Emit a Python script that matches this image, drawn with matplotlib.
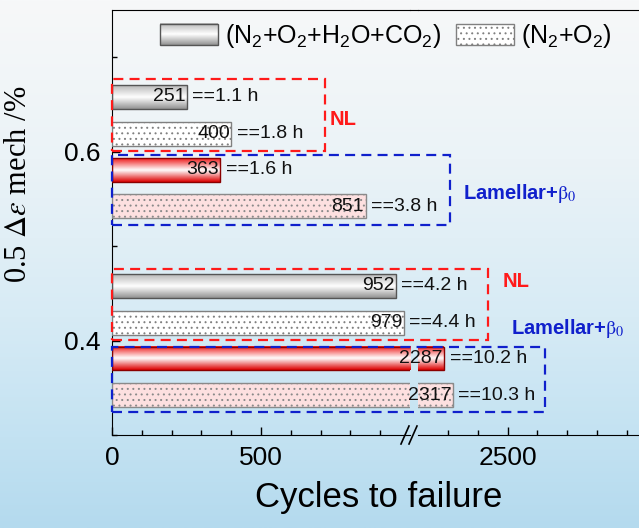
import numpy as np
import matplotlib
matplotlib.use("Agg")
import matplotlib.pyplot as plt
import matplotlib.ticker as mticker
from matplotlib.colors import LinearSegmentedColormap
from matplotlib.legend_handler import HandlerBase
from matplotlib.image import BboxImage
from matplotlib.transforms import Bbox, TransformedBbox, blended_transform_factory
from matplotlib.patches import Rectangle
from matplotlib.lines import Line2D

plt.rcParams['font.family'] = ['Liberation Sans', 'DejaVu Sans']
plt.rcParams['mathtext.fontset'] = 'custom'
plt.rcParams['mathtext.rm'] = 'Liberation Sans'
plt.rcParams['mathtext.it'] = 'Liberation Sans:italic'
plt.rcParams['mathtext.bf'] = 'Liberation Sans:bold'
plt.rcParams['hatch.linewidth'] = 0.7

# strain amplitude levels (0.5 * delta eps mech, %)
strain_amp = [0.6, 0.4]

# cycles to failure
nl_wet = [251, 952]        # NL, N2+O2+H2O+CO2
nl_dry = [400, 979]        # NL, N2+O2
lam_wet = [363, 2287]      # Lamellar+b0, N2+O2+H2O+CO2
lam_dry = [851, 2317]      # Lamellar+b0, N2+O2

# test time in hours
nl_wet_h = [1.1, 4.2]
nl_dry_h = [1.8, 4.4]
lam_wet_h = [1.6, 10.2]
lam_dry_h = [3.8, 10.3]

legend_labels = [r'(N$_2$+O$_2$+H$_2$O+CO$_2$)', r'(N$_2$+O$_2$)']

offsets = [0.058, 0.019, -0.019, -0.058]
bar_h = 0.0254

gray_cmap = LinearSegmentedColormap.from_list(
    'gray_bar', [(0, '#929292'), (0.5, '#ffffff'), (1, '#b8b8b8')])
red_cmap = LinearSegmentedColormap.from_list(
    'red_bar', [(0, '#dd0000'), (0.5, '#ffffff'), (1, '#ee1a1a')])
bg_cmap = LinearSegmentedColormap.from_list(
    'bg', [(0, '#f7f8f9'), (0.3, '#ebf3f7'), (0.6, '#d7ebf5'),
           (0.83, '#c3e2f2'), (1, '#b4daee')])

W, H = 639, 528
fig = plt.figure(figsize=(W / 100, H / 100), dpi=100)

bg = fig.add_axes([0, 0, 1, 1], zorder=-10)
bg.imshow(np.linspace(0, 1, 256).reshape(-1, 1), aspect='auto', cmap=bg_cmap,
          extent=(0, 1, 0, 1), origin='upper')
bg.axis('off')

ax_bottom, ax_top = 93 / H, 518 / H
ax1 = fig.add_axes([112 / W, ax_bottom, 298 / W, ax_top - ax_bottom])
ax2 = fig.add_axes([418 / W, ax_bottom, 221 / W, ax_top - ax_bottom])


def gradient_bars(ax, ypos, widths, cmap, edge):
    bars = ax.barh(ypos, widths, height=bar_h, facecolor='none',
                   edgecolor=edge, linewidth=1.0, zorder=3)
    grad = np.linspace(0, 1, 64).reshape(-1, 1)
    for b in bars:
        x0, y0 = b.get_xy()
        ax.imshow(grad, extent=(x0, x0 + b.get_width(), y0, y0 + b.get_height()),
                  origin='lower', aspect='auto', cmap=cmap,
                  interpolation='bicubic', zorder=2)
    return bars


def dotted_bars(ax, ypos, widths, face, edge):
    return ax.barh(ypos, widths, height=bar_h, facecolor=face, edgecolor=edge,
                   hatch='...', linewidth=1.0, zorder=3)


series = [
    (nl_wet, nl_wet_h, 'grad', gray_cmap, '#555555'),
    (nl_dry, nl_dry_h, 'dots', '#ffffff', '#808080'),
    (lam_wet, lam_wet_h, 'grad', red_cmap, '#8a0000'),
    (lam_dry, lam_dry_h, 'dots', '#fde0e0', '#8a8a8a'),
]

for ax in (ax1, ax2):
    for (vals, hrs, kind, style, edge), off in zip(series, offsets):
        ypos = [s + off for s in strain_amp]
        if kind == 'grad':
            gradient_bars(ax, ypos, vals, style, edge)
        else:
            dotted_bars(ax, ypos, vals, style, edge)

# value and duration labels
for (vals, hrs, kind, style, edge), off in zip(series, offsets):
    for s, v, h in zip(strain_amp, vals, hrs):
        ax = ax1 if v < 1000 else ax2
        y = s + off
        ax.annotate(f'{v}', (v, y), xytext=(-1, 0), textcoords='offset points',
                    ha='right', va='center', fontsize=14, color='#111111',
                    zorder=6, annotation_clip=False)
        ax.annotate(f'=={h} h', (v, y), xytext=(4, 0), textcoords='offset points',
                    ha='left', va='center', fontsize=14, color='#111111',
                    zorder=6, annotation_clip=False)

for ax in (ax1, ax2):
    ax.set_facecolor('none')
    ax.set_ylim(0.3, 0.75)
    ax.tick_params(direction='in', which='major', length=6, width=1,
                   labelsize=19, pad=8)
    ax.tick_params(direction='in', which='minor', length=3.5, width=1)
    ax.spines['right'].set_visible(False)

ax1.set_xlim(0, 1000)
ax1.xaxis.set_major_locator(mticker.FixedLocator([0, 500]))
ax1.xaxis.set_minor_locator(mticker.FixedLocator(range(100, 1000, 100)))
ax1.yaxis.set_major_locator(mticker.MultipleLocator(0.2))
ax1.yaxis.set_minor_locator(mticker.MultipleLocator(0.1))
ax1.yaxis.set_major_formatter(mticker.FormatStrFormatter('%.1f'))

ax2.set_xlim(2200, 2940)
ax2.xaxis.set_major_locator(mticker.FixedLocator([2500]))
ax2.xaxis.set_minor_locator(mticker.FixedLocator([2300, 2400, 2600, 2700, 2800, 2900]))
ax2.spines['left'].set_visible(False)
ax2.tick_params(axis='y', which='both', left=False, labelleft=False)

ax1.set_ylabel(r'0.5 $\Delta\varepsilon$ mech /%', fontsize=22,
               family='Liberation Serif', math_fontfamily='stix')
ax1.yaxis.set_label_coords(-0.265, 0.59)
fig.text(379 / W, 1 - 497 / H, 'Cycles to failure', fontsize=25,
         ha='center', va='center')

# break marks on the x axis and a bridge for the top frame
y_b = ax_bottom
for xp in (405, 413):
    fig.add_artist(Line2D([(xp - 4) / W, (xp + 4) / W], [y_b - 9 / H, y_b + 9 / H],
                          color='black', lw=1.2))
fig.add_artist(Line2D([410 / W, 418 / W], [ax_top, ax_top], color='black', lw=0.8))

# dashed group frames: x in figure fraction, y in data
tr = blended_transform_factory(fig.transFigure, ax1.transData)
x_left = 112 / W
frames = [
    (325, 0.6005, 0.677, '#ff1a1a'),
    (450, 0.5225, 0.5966, '#1020cc'),
    (488, 0.4006, 0.4758, '#ff1a1a'),
    (545, 0.3244, 0.3932, '#1020cc'),
]
for xr, y0, y1, col in frames:
    fig.add_artist(Rectangle((x_left, y0), xr / W - x_left, y1 - y0, transform=tr,
                             fill=False, edgecolor=col, lw=1.6,
                             linestyle=(0, (4.5, 2.8)), zorder=5, clip_on=False))

group_labels = [
    (330, 0.634, 'NL', '#ff1a1a'),
    (463, 0.556, r'Lamellar+$\mathrm{\beta}_{\mathrm{0}}$', '#1020cc'),
    (503, 0.462, 'NL', '#ff1a1a'),
    (511, 0.413, r'Lamellar+$\mathrm{\beta}_{\mathrm{0}}$', '#1020cc'),
]
for xp, y, txt, col in group_labels:
    fig.text(xp / W, y, txt, transform=tr, fontsize=14.5, fontweight='bold',
             color=col, ha='left', va='center', math_fontfamily='stix')


class GradientHandler(HandlerBase):
    def __init__(self, cmap):
        super().__init__()
        self.cmap = cmap

    def create_artists(self, legend, orig_handle, xdescent, ydescent,
                       width, height, fontsize, trans):
        box = TransformedBbox(Bbox.from_bounds(-xdescent, -ydescent, width, height), trans)
        img = BboxImage(box, cmap=self.cmap, interpolation='bicubic', origin='lower')
        img.set_data(np.linspace(0, 1, 64).reshape(-1, 1))
        frame = Rectangle((-xdescent, -ydescent), width, height, facecolor='none',
                          edgecolor='#555555', lw=1.0, transform=trans)
        return [img, frame]


wet_proxy = Rectangle((0, 0), 1, 1)
dry_proxy = Rectangle((0, 0), 1, 1, facecolor='#ffffff', edgecolor='#808080',
                      hatch='...', lw=1.0)
fig.legend([wet_proxy, dry_proxy], legend_labels,
           handler_map={wet_proxy: GradientHandler(gray_cmap)},
           loc='upper center', bbox_to_anchor=(386 / W, 1 - 12 / H), ncol=2,
           frameon=False, fontsize=18, handlelength=2.3, handleheight=0.95,
           handletextpad=0.3, columnspacing=0.6, borderaxespad=0)

fig.savefig('out.png', dpi=100)
